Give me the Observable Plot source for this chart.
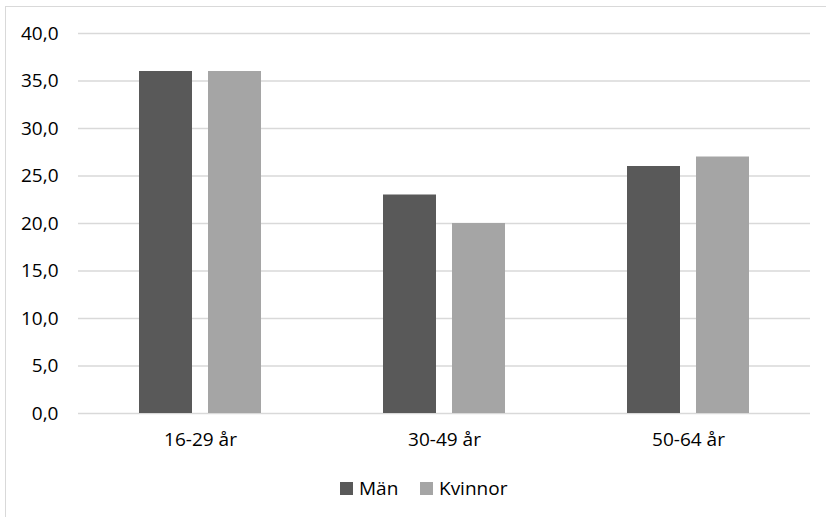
<!DOCTYPE html>
<html>
<head>
<meta charset="utf-8">
<script src="https://cdn.jsdelivr.net/npm/d3@7"></script>
<script src="https://cdn.jsdelivr.net/npm/@observablehq/plot@0.6"></script>
<style>
  html, body { margin: 0; padding: 0; background: #fff; overflow: hidden; }
  #wrap { position: relative; width: 826px; height: 517px; font-family: "Open Sans", sans-serif; }
  #border { position: absolute; left: 5px; top: 6px; width: 900px; height: 600px; border-left: 1.5px solid #d9d9d9; border-top: 1.5px solid #d9d9d9; box-sizing: border-box; }
  #chart { position: absolute; left: 0; top: 0; }
  #legend { position: absolute; top: 476px; left: 0; width: 826px; height: 24px; font-size: 19px; color: #000; }
  .item { position: absolute; top: 0; display: flex; align-items: center; height: 24px; }
  .sw { width: 13px; height: 13px; display: inline-block; margin-right: 6px; }
</style>
</head>
<body>
<div id="wrap">
  <div id="border"></div>
  <div id="chart"></div>
  <div id="legend"></div>
</div>
<script>
const categories = ["16-29 år", "30-49 år", "50-64 år"];
const series = ["Män", "Kvinnor"];
const manValues = [36, 23, 26];
const kvinnorValues = [36, 20, 27];
const yTicks = [0, 5, 10, 15, 20, 25, 30, 35, 40];
const colors = ["#595959", "#a5a5a5"];

const data = [];
categories.forEach((c, i) => {
  data.push({category: c, series: series[0], value: manValues[i]});
  data.push({category: c, series: series[1], value: kvinnorValues[i]});
});

const chart = Plot.plot({
  width: 826,
  height: 470,
  marginLeft: 77,
  marginRight: 16,
  marginTop: 33,
  marginBottom: 57,
  style: {fontFamily: "'Open Sans', sans-serif", fontSize: "19px", color: "#000", background: "transparent"},
  fx: {domain: categories, padding: 0, label: null, tickSize: 0, tickPadding: 19, axis: "bottom"},
  x: {domain: series, paddingInner: 0.2286, paddingOuter: 0.86, axis: null},
  y: {domain: [0, 40], ticks: yTicks, tickSize: 0, tickPadding: 20, label: null,
      tickFormat: d => d.toFixed(1).replace(".", ",")},
  color: {domain: series, range: colors},
  marks: [
    Plot.ruleY(yTicks, {stroke: "#d9d9d9", strokeWidth: 1.3}),
    Plot.barY(data, {fx: "category", x: "series", y: "value", fill: "series"})
  ]
});
document.getElementById("chart").appendChild(chart);

const legend = document.getElementById("legend");
const legendPos = [340, 420];
series.forEach((s, i) => {
  const item = document.createElement("div");
  item.className = "item";
  item.style.left = legendPos[i] + "px";
  const sw = document.createElement("span");
  sw.className = "sw";
  sw.style.background = colors[i];
  item.appendChild(sw);
  item.appendChild(document.createTextNode(s));
  legend.appendChild(item);
});
</script>
</body>
</html>
